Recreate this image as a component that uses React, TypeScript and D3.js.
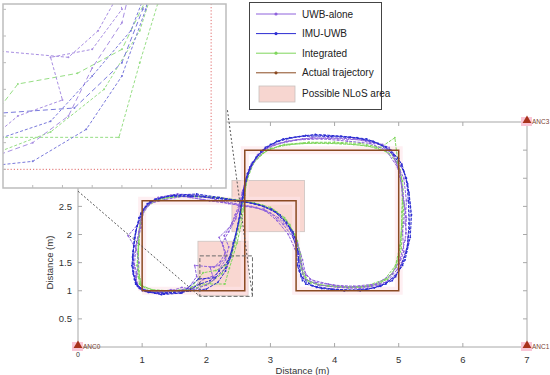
import React from "react";
import * as d3 from "d3";

type Pt = [number, number];

// axis ticks
const X_TICKS = [1, 2, 3, 4, 5, 6, 7];
const Y_TICKS = [0.5, 1, 1.5, 2, 2.5];
const Y_TICKS_BOX = [0.5, 1, 1.5, 2, 2.5, 3, 3.5];
const INSET_X_TICKS = [2.0, 2.1, 2.2, 2.3, 2.4, 2.5, 2.6];
const INSET_Y_TICKS = [1.0, 1.1, 1.2, 1.3, 1.4, 1.5, 1.6];

// anchors (m)
const ANCHORS: { name: string; x: number; y: number }[] = [
  { name: "ANC0", x: 0, y: 0 },
  { name: "ANC1", x: 7, y: 0 },
  { name: "ANC3", x: 7, y: 4 },
];

// ground truth figure-eight
const ACTUAL: Pt[] = [[1, 1], [2.6, 1], [2.6, 3.5], [5, 3.5], [5, 1], [3.4, 1], [3.4, 2.6], [1, 2.6], [1, 1]];

// possible NLoS areas [x0, y0, x1, y1]
const NLOS: [number, number, number, number][] = [
  [1.87, 0.91, 2.65, 1.88],
  [2.4, 2.05, 3.53, 2.96],
];

// zoomed region shown in the inset
const ZOOM_BOX: [number, number, number, number] = [1.9, 0.9, 2.72, 1.62];
const INSET_DOMAIN_X = [1.9, 2.65];
const INSET_DOMAIN_Y = [0.93, 1.62];
// connector lines from inset to zoom box (m)
const CONNECTORS: [Pt, Pt][] = [
  [[0, 2.77], [1.9, 0.9]],
  [[2.33, 4.21], [2.72, 0.9]],
];

// UWB-alone laps
const UWB_ALONE: Pt[][] = [
  [[0.92,1.1],[1.08,0.98],[1.28,0.97],[1.45,1.02],[1.62,0.98],[1.8,1.06],[1.95,1.2],[2.1,1.26],[2.06,1.42],[2.2,1.45],[2.3,1.6],[2.26,1.8],[2.2,1.95],[2.38,2.15],[2.45,2.35],[2.52,2.55],[2.56,2.75],[2.62,3.0],[2.7,3.25],[2.88,3.5],[3.15,3.62],[3.5,3.7],[3.9,3.72],[4.3,3.7],[4.62,3.62],[4.85,3.55],[4.95,3.3],[5.08,3.0],[5.12,2.6],[5.1,2.2],[5.15,1.85],[5.05,1.5],[4.95,1.25],[4.7,1.1],[4.4,1.04],[4.05,1.06],[3.75,1.1],[3.52,1.22],[3.48,1.48],[3.38,1.75],[3.28,2.0],[3.1,2.25],[2.92,2.42],[2.7,2.5],[2.45,2.55],[2.15,2.62],[1.85,2.7],[1.55,2.72],[1.25,2.66],[1.05,2.5],[0.95,2.2],[0.78,1.98],[0.9,1.75],[0.88,1.45],[0.9,1.2],[0.92,1.1]],
  [[0.95,1.05],[1.15,0.99],[1.4,0.98],[1.62,1.06],[1.8,1.02],[2.0,1.1],[2.12,1.2],[2.2,1.38],[2.3,1.55],[2.35,1.78],[2.28,1.98],[2.4,2.2],[2.5,2.42],[2.55,2.62],[2.6,2.88],[2.66,3.15],[2.8,3.42],[3.05,3.6],[3.4,3.68],[3.8,3.7],[4.2,3.66],[4.55,3.62],[4.8,3.5],[4.98,3.2],[5.05,2.85],[5.1,2.45],[5.06,2.05],[5.08,1.7],[4.98,1.38],[4.8,1.15],[4.52,1.08],[4.2,1.06],[3.9,1.12],[3.62,1.2],[3.5,1.4],[3.45,1.65],[3.35,1.95],[3.2,2.18],[3.0,2.38],[2.78,2.48],[2.5,2.52],[2.25,2.58],[1.95,2.62],[1.65,2.68],[1.35,2.62],[1.12,2.55],[1.0,2.35],[0.95,2.05],[0.9,1.8],[0.95,1.5],[0.9,1.25],[0.95,1.05]],
  [[0.9,1.15],[1.0,1.0],[1.25,0.95],[1.5,0.98],[1.72,1.05],[1.85,1.25],[1.82,1.45],[2.12,1.42],[2.22,1.52],[2.3,1.68],[2.25,1.85],[2.35,2.05],[2.46,2.28],[2.52,2.5],[2.58,2.7],[2.6,2.95],[2.75,3.3],[2.95,3.55],[3.25,3.66],[3.65,3.72],[4.05,3.7],[4.45,3.68],[4.75,3.6],[4.92,3.4],[5.02,3.1],[5.06,2.7],[5.12,2.3],[5.1,1.9],[5.02,1.55],[4.9,1.3],[4.65,1.12],[4.3,1.08],[3.98,1.1],[3.7,1.15],[3.55,1.28],[3.5,1.55],[3.42,1.85],[3.3,2.1],[3.12,2.3],[2.9,2.45],[2.62,2.5],[2.35,2.55],[2.05,2.6],[1.75,2.66],[1.45,2.7],[1.18,2.6],[1.02,2.42],[0.98,2.12],[0.92,1.85],[0.86,1.55],[0.92,1.3],[0.9,1.15]],
];

// IMU-UWB laps
const IMU_UWB: Pt[][] = [
  [[0.93,1.08],[1.1,0.97],[1.35,0.95],[1.6,0.96],[1.72,1.0],[1.9,1.12],[2.06,1.18],[2.2,1.35],[2.33,1.52],[2.4,1.72],[2.46,2.0],[2.52,2.3],[2.56,2.6],[2.6,2.9],[2.68,3.2],[2.85,3.48],[3.1,3.66],[3.45,3.74],[3.85,3.76],[4.25,3.73],[4.6,3.66],[4.88,3.5],[5.05,3.25],[5.14,2.9],[5.18,2.5],[5.17,2.1],[5.12,1.7],[5.0,1.35],[4.8,1.12],[4.5,1.02],[4.15,1.0],[3.8,1.04],[3.55,1.12],[3.45,1.35],[3.43,1.7],[3.35,2.05],[3.15,2.35],[2.9,2.5],[2.6,2.58],[2.3,2.63],[1.95,2.68],[1.6,2.7],[1.3,2.66],[1.08,2.55],[0.95,2.3],[0.88,1.95],[0.85,1.6],[0.86,1.3],[0.93,1.08]],
  [[0.9,1.12],[1.05,0.99],[1.3,0.93],[1.62,0.96],[1.88,1.21],[2.14,1.23],[2.3,1.4],[2.37,1.6],[2.42,1.85],[2.48,2.1],[2.53,2.4],[2.57,2.65],[2.62,2.95],[2.72,3.28],[2.92,3.55],[3.2,3.7],[3.55,3.76],[3.95,3.74],[4.35,3.72],[4.68,3.62],[4.92,3.42],[5.08,3.12],[5.16,2.75],[5.2,2.35],[5.18,1.95],[5.1,1.55],[4.95,1.25],[4.72,1.08],[4.4,1.0],[4.05,1.02],[3.72,1.06],[3.5,1.18],[3.42,1.45],[3.4,1.8],[3.3,2.12],[3.08,2.4],[2.82,2.53],[2.52,2.6],[2.2,2.66],[1.85,2.72],[1.5,2.7],[1.2,2.63],[1.02,2.45],[0.92,2.15],[0.87,1.8],[0.84,1.45],[0.88,1.2],[0.9,1.12]],
  [[0.97,1.04],[1.2,0.96],[1.5,0.97],[1.75,1.0],[2.0,1.03],[2.18,1.15],[2.3,1.35],[2.38,1.6],[2.44,1.9],[2.5,2.2],[2.54,2.5],[2.58,2.78],[2.64,3.08],[2.78,3.38],[3.0,3.6],[3.3,3.72],[3.7,3.78],[4.1,3.75],[4.5,3.7],[4.8,3.56],[5.0,3.35],[5.12,3.0],[5.15,2.6],[5.16,2.2],[5.14,1.8],[5.06,1.45],[4.9,1.18],[4.62,1.05],[4.3,1.01],[3.95,1.03],[3.65,1.09],[3.48,1.25],[3.44,1.55],[3.4,1.92],[3.25,2.22],[3.02,2.45],[2.75,2.55],[2.45,2.6],[2.1,2.65],[1.75,2.68],[1.4,2.68],[1.12,2.58],[0.98,2.38],[0.9,2.05],[0.86,1.7],[0.86,1.35],[0.9,1.15],[0.97,1.04]],
];

// Integrated laps
const INTEGRATED: Pt[][] = [
  [[0.98,1.1],[1.15,1.02],[1.4,1.0],[1.65,1.02],[1.9,1.12],[2.29,1.12],[2.36,1.4],[2.42,1.62],[2.48,1.85],[2.54,2.15],[2.58,2.45],[2.6,2.7],[2.63,3.0],[2.72,3.25],[2.88,3.45],[3.15,3.58],[3.5,3.62],[3.9,3.62],[4.3,3.6],[4.65,3.55],[4.9,3.42],[5.02,3.15],[5.06,2.8],[5.05,2.4],[5.04,2.0],[5.0,1.6],[4.9,1.3],[4.7,1.12],[4.4,1.06],[4.05,1.08],[3.75,1.1],[3.55,1.2],[3.48,1.4],[3.45,1.7],[3.38,2.0],[3.22,2.3],[3.0,2.48],[2.75,2.56],[2.45,2.62],[2.1,2.66],[1.75,2.68],[1.4,2.66],[1.12,2.58],[1.0,2.38],[0.95,2.05],[0.94,1.7],[0.95,1.35],[0.98,1.1]],
  [[1.0,1.08],[1.2,1.0],[1.5,0.99],[1.75,1.03],[1.95,1.32],[2.15,1.36],[2.3,1.45],[2.4,1.68],[2.46,1.98],[2.52,2.28],[2.56,2.55],[2.6,2.82],[2.66,3.1],[2.78,3.36],[3.0,3.53],[3.3,3.6],[3.7,3.63],[4.1,3.62],[4.5,3.58],[4.8,3.48],[4.98,3.28],[5.06,2.95],[5.08,2.55],[5.06,2.15],[5.04,1.75],[4.96,1.42],[4.82,1.2],[4.55,1.08],[4.22,1.05],[3.9,1.08],[3.62,1.14],[3.5,1.3],[3.46,1.58],[3.42,1.88],[3.3,2.18],[3.1,2.4],[2.88,2.52],[2.6,2.6],[2.28,2.64],[1.92,2.68],[1.58,2.68],[1.25,2.62],[1.05,2.48],[0.97,2.2],[0.95,1.85],[0.93,1.5],[0.96,1.22],[1.0,1.08]],
  [[0.96,1.12],[1.1,1.0],[1.32,0.98],[1.58,1.0],[1.85,1.05],[2.06,1.14],[2.24,1.3],[2.36,1.52],[2.44,1.8],[2.5,2.1],[2.55,2.4],[2.59,2.68],[2.64,2.98],[2.74,3.28],[2.95,3.5],[3.22,3.6],[3.6,3.64],[4.0,3.64],[4.4,3.62],[4.72,3.55],[4.94,3.72],[4.98,3.35],[5.04,3.0],[5.06,2.6],[5.05,2.2],[5.02,1.8],[4.95,1.45],[4.78,1.2],[4.48,1.08],[4.12,1.07],[3.8,1.1],[3.58,1.18],[3.5,1.38],[3.47,1.65],[3.4,1.95],[3.25,2.25],[3.05,2.44],[2.8,2.54],[2.5,2.6],[2.18,2.66],[1.82,2.68],[1.48,2.68],[1.18,2.6],[1.02,2.42],[0.96,2.12],[0.94,1.8],[0.92,1.45],[0.94,1.25],[0.96,1.12]],
];

const SERIES = [
  { name: "Integrated", laps: INTEGRATED, color: "#7fd65c", inset: "#96de84" },
  { name: "UWB-alone", laps: UWB_ALONE, color: "#8f62dc", inset: "#a88ee2" },
  { name: "IMU-UWB", laps: IMU_UWB, color: "#2c2cd2", inset: "#7a7adc" },
];

const LEGEND = [
  { label: "UWB-alone", color: "#8f62dc" },
  { label: "IMU-UWB", color: "#2c2cd2" },
  { label: "Integrated", color: "#7fd65c" },
  { label: "Actual trajectory", color: "#8b4a22" },
];

const FONT = "'Liberation Sans', Arial, Helvetica, sans-serif";
const W = 550, H = 375;
const PLOT = { left: 78, right: 527, top: 122, bottom: 347 };
const INSET = { x: 3, y: 4, w: 223, h: 184 };

export default function App() {
  const x = d3.scaleLinear().domain([0, 7]).range([PLOT.left, PLOT.right]);
  const y = d3.scaleLinear().domain([0, 4]).range([PLOT.bottom, PLOT.top]);
  const ix = d3.scaleLinear().domain(INSET_DOMAIN_X).range([INSET.x, INSET.x + INSET.w]);
  const iy = d3.scaleLinear().domain(INSET_DOMAIN_Y).range([INSET.y + INSET.h, INSET.y]);

  const line = d3.line<Pt>().x(d => x(d[0])).y(d => y(d[1]));
  const iline = d3.line<Pt>().x(d => ix(d[0])).y(d => iy(d[1]));
  const axisColor = "#a8a8a8";

  return (
    <svg width={W} height={H} style={{ position: "absolute", left: 0, top: 0, fontFamily: FONT }}>
      <rect width={W} height={H} fill="#fff" />
      <defs>
        <clipPath id="insetClip">
          <rect x={INSET.x} y={INSET.y} width={INSET.w} height={INSET.h} />
        </clipPath>
      </defs>

      {/* NLoS areas */}
      {NLOS.map((r, i) => (
        <rect key={i} x={x(r[0])} y={y(r[3])} width={x(r[2]) - x(r[0])} height={y(r[1]) - y(r[3])}
          fill="#f7cdc6" fillOpacity={0.8} stroke="#cbc3c0" strokeWidth={0.8} />
      ))}

      {/* faint halo along ground truth */}
      <path d={line(ACTUAL) || ""} fill="none" stroke="#fde4ea" strokeWidth={8} strokeOpacity={0.6} />

      {/* estimated trajectories */}
      {SERIES.map(s => (
        <g key={s.name}>
          {s.laps.map((lap, i) => (
            <g key={i}>
              <path d={line(lap) || ""} fill="none" stroke={s.color} strokeWidth={1} strokeDasharray="3,1.2" />
              {lap.map((p, j) => (
                <circle key={j} cx={x(p[0])} cy={y(p[1])} r={0.9} fill={s.color} />
              ))}
            </g>
          ))}
        </g>
      ))}

      {/* actual trajectory */}
      <path d={line(ACTUAL) || ""} fill="none" stroke="#8b4a22" strokeWidth={1.5} />

      {/* axes box */}
      <rect x={PLOT.left} y={PLOT.top} width={PLOT.right - PLOT.left} height={PLOT.bottom - PLOT.top}
        fill="none" stroke={axisColor} strokeWidth={1} />
      {X_TICKS.map(t => (
        <g key={t}>
          <line x1={x(t)} x2={x(t)} y1={PLOT.bottom} y2={PLOT.bottom - 4} stroke={axisColor} />
          <line x1={x(t)} x2={x(t)} y1={PLOT.top} y2={PLOT.top + 4} stroke={axisColor} />
          <text x={x(t)} y={PLOT.bottom + 16} textAnchor="middle" fontSize={9.5} fill="#333">{t}</text>
        </g>
      ))}
      <text x={x(0)} y={PLOT.bottom + 10} textAnchor="middle" fontSize={7} fill="#333">0</text>
      {Y_TICKS_BOX.map(t => (
        <g key={t}>
          <line x1={PLOT.left} x2={PLOT.left + 4} y1={y(t)} y2={y(t)} stroke={axisColor} />
          <line x1={PLOT.right} x2={PLOT.right - 4} y1={y(t)} y2={y(t)} stroke={axisColor} />
        </g>
      ))}
      {Y_TICKS.map(t => (
        <text key={t} x={PLOT.left - 6} y={y(t) + 3.5} textAnchor="end" fontSize={9.5} fill="#333">{t}</text>
      ))}
      <text x={(PLOT.left + PLOT.right) / 2} y={374} textAnchor="middle" fontSize={9.5} fill="#333">Distance (m)</text>
      <text transform={`translate(53, ${y(1.5)}) rotate(-90)`} textAnchor="middle" fontSize={9.5} fill="#333">Distance (m)</text>

      {/* zoom box and connectors */}
      <rect x={x(ZOOM_BOX[0])} y={y(ZOOM_BOX[3])} width={x(ZOOM_BOX[2]) - x(ZOOM_BOX[0])}
        height={y(ZOOM_BOX[1]) - y(ZOOM_BOX[3])} fill="none" stroke="#6a6a6a" strokeWidth={1} strokeDasharray="4,2" />
      {CONNECTORS.map((c, i) => (
        <line key={i} x1={x(c[0][0])} y1={y(c[0][1])} x2={x(c[1][0])} y2={y(c[1][1])}
          stroke="#555" strokeWidth={1} strokeDasharray="2,2" />
      ))}

      {/* anchors */}
      {ANCHORS.map(a => (
        <g key={a.name}>
          <rect x={x(a.x) - 6} y={y(a.y) - 5} width={11} height={9} fill="#f9c6d6" />
          <path d={d3.symbol(d3.symbolTriangle, 34)() || ""} transform={`translate(${x(a.x)},${y(a.y) - 1.5})`} fill="#a8321c" />
          <text x={x(a.x) + 5} y={y(a.y) + 2} fontSize={6.5} fill="#7a3f30">{a.name}</text>
        </g>
      ))}

      {/* inset */}
      <rect x={INSET.x} y={INSET.y} width={INSET.w} height={INSET.h} fill="#fff" />
      <g clipPath="url(#insetClip)">
        {SERIES.map(s => (
          <g key={s.name}>
            {s.laps.map((lap, i) => (
              <g key={i}>
                <path d={iline(lap) || ""} fill="none" stroke={s.inset} strokeWidth={1}
                  strokeDasharray={i % 2 ? "5,3" : "3,2"} />
                {lap.map((p, j) => (
                  <circle key={j} cx={ix(p[0])} cy={iy(p[1])} r={1} fill={s.inset} />
                ))}
              </g>
            ))}
          </g>
        ))}
        <path d={iline(ACTUAL) || ""} fill="none" stroke="#e06a6a" strokeWidth={1} strokeDasharray="1.2,2" />
        {INSET_X_TICKS.map(t => (
          <line key={t} x1={ix(t)} x2={ix(t)} y1={INSET.y + INSET.h} y2={INSET.y + INSET.h - 3} stroke="#bbb" />
        ))}
        {INSET_Y_TICKS.map(t => (
          <line key={t} x1={INSET.x} x2={INSET.x + 3} y1={iy(t)} y2={iy(t)} stroke="#bbb" />
        ))}
      </g>
      <rect x={INSET.x} y={INSET.y} width={INSET.w} height={INSET.h} fill="none" stroke="#bdbdbd" strokeWidth={1.5} />

      {/* legend */}
      <rect x={249.5} y={2.5} width={132} height={107} fill="#fff" stroke="#444" strokeWidth={1} />
      {LEGEND.map((l, i) => {
        const ly = 14 + i * 19.6;
        return (
          <g key={l.label}>
            <line x1={256} x2={296} y1={ly} y2={ly} stroke={l.color} strokeWidth={1} />
            <circle cx={276} cy={ly} r={1.6} fill={l.color} />
            <text x={302} y={ly + 3.5} fontSize={10} fill="#222">{l.label}</text>
          </g>
        );
      })}
      <rect x={259} y={86} width={36} height={16} fill="#f7d6d0" stroke="#c9c0bd" strokeWidth={0.8} />
      <text x={302} y={97} fontSize={10} fill="#222">Possible NLoS area</text>
    </svg>
  );
}
